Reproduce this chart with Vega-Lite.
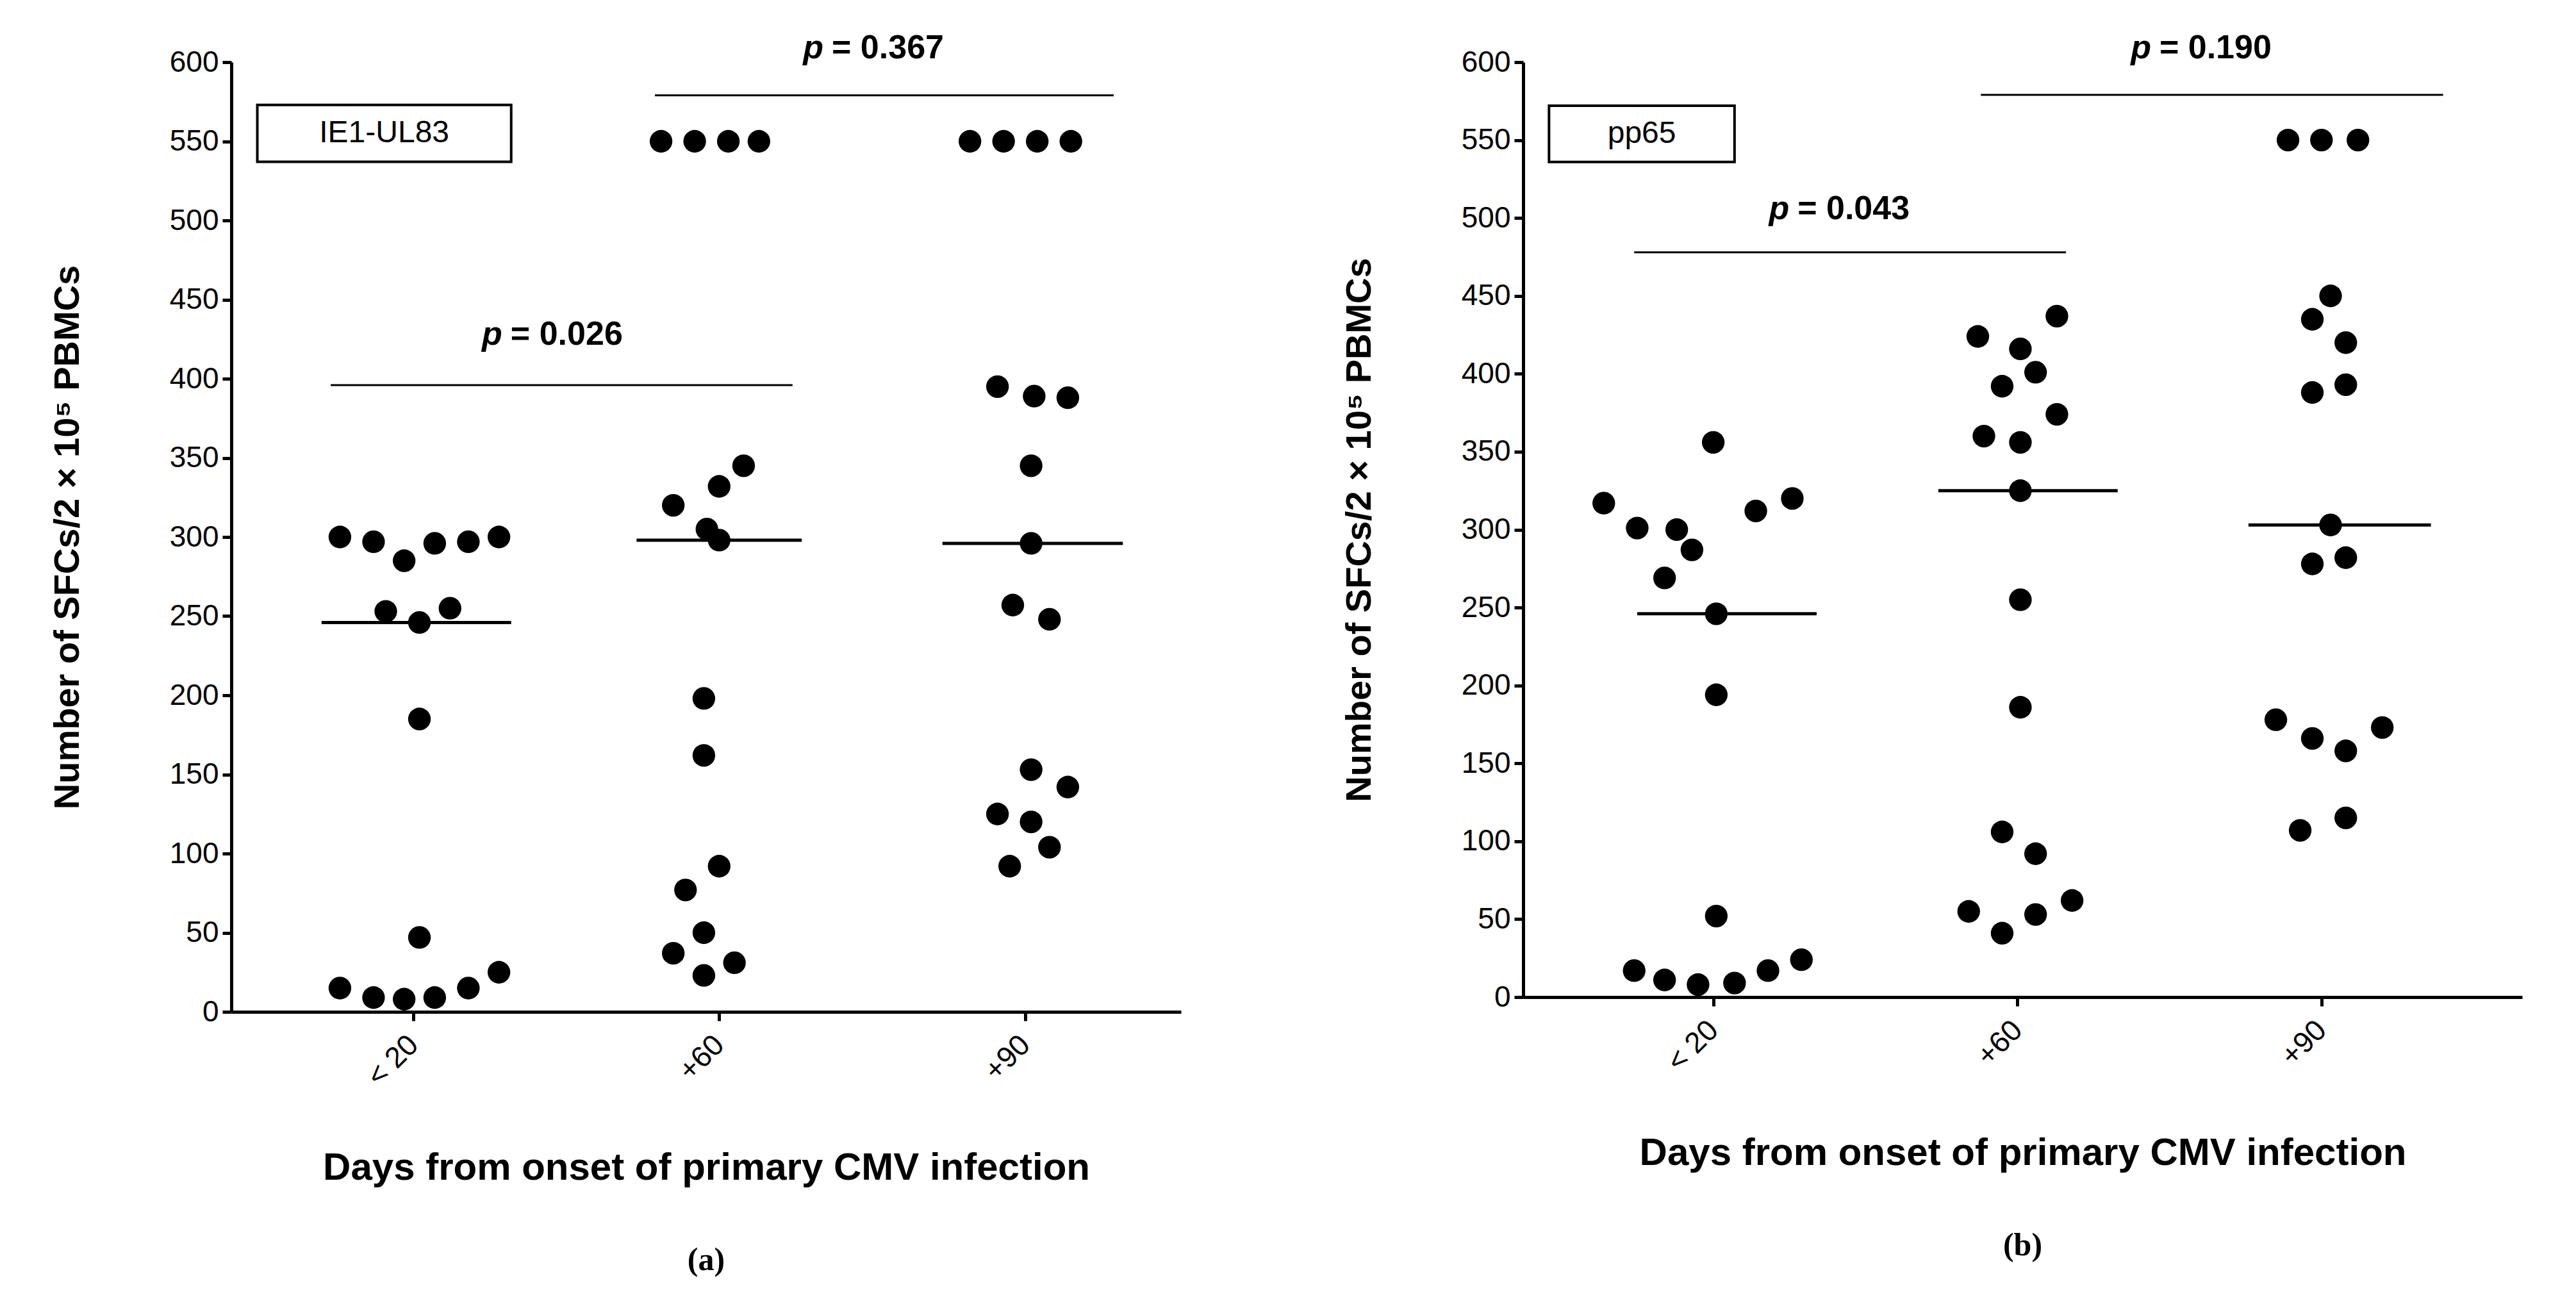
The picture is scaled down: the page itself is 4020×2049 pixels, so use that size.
{
"$schema":"https://vega.github.io/schema/vega-lite/v6.json",
"background":"white",
"padding":{"left":77,"top":48,"right":10,"bottom":10},
"spacing":250,
"config":{"view":{"stroke":null},"font":"Liberation Sans",
"axis":{"grid":false,"domainColor":"black","domainWidth":5,"tickColor":"black","tickWidth":5,"tickSize":14,"labelFont":"Liberation Sans","labelFontSize":46,"labelColor":"black","titleColor":"black","labelPadding":6},
"title":{"font":"Liberation Serif","fontSize":50,"fontWeight":"bold","orient":"bottom","offset":90,"color":"black"}},
"datasets":{
"pa":[{"x":0.76,"y":300},{"x":0.87,"y":297},{"x":0.97,"y":285},{"x":1.07,"y":296},{"x":1.18,"y":297},{"x":1.28,"y":300},{"x":0.91,"y":253},{"x":1.02,"y":246},{"x":1.12,"y":255},{"x":1.02,"y":185},{"x":0.76,"y":15},{"x":0.87,"y":9},{"x":0.97,"y":8},{"x":1.07,"y":9},{"x":1.18,"y":15},{"x":1.28,"y":25},{"x":1.02,"y":47},
{"x":1.81,"y":550},{"x":1.92,"y":550},{"x":2.03,"y":550},{"x":2.13,"y":550},{"x":1.85,"y":320},{"x":1.96,"y":305},{"x":2.0,"y":298},{"x":2.0,"y":332},{"x":2.08,"y":345},{"x":1.95,"y":198},{"x":1.95,"y":162},{"x":2.0,"y":92},{"x":1.89,"y":77},{"x":1.95,"y":50},{"x":1.85,"y":37},{"x":2.05,"y":31},{"x":1.95,"y":23},
{"x":2.82,"y":550},{"x":2.93,"y":550},{"x":3.04,"y":550},{"x":3.15,"y":550},{"x":2.91,"y":395},{"x":3.03,"y":389},{"x":3.14,"y":388},{"x":3.02,"y":345},{"x":3.02,"y":296},{"x":2.96,"y":257},{"x":3.08,"y":248},{"x":3.02,"y":153},{"x":3.14,"y":142},{"x":2.91,"y":125},{"x":3.02,"y":120},{"x":3.08,"y":104},{"x":2.95,"y":92}],
"ma":[{"x":0.7,"x2":1.32,"y":246},{"x":1.73,"x2":2.27,"y":298},{"x":2.73,"x2":3.32,"y":296}],
"sa":[{"x":0.73,"x2":2.24,"y":396,"xm":1.49,"ty":428,"t":"= 0.026"},{"x":1.79,"x2":3.29,"y":579,"xm":2.54,"ty":609,"t":"= 0.367"}],
"pb":[{"x":1.0,"y":356},{"x":0.64,"y":317},{"x":0.75,"y":301},{"x":0.88,"y":300},{"x":0.93,"y":287},{"x":0.84,"y":269},{"x":1.14,"y":312},{"x":1.26,"y":320},{"x":1.01,"y":246},{"x":1.01,"y":194},{"x":1.01,"y":52},{"x":0.74,"y":17},{"x":0.84,"y":11},{"x":0.95,"y":8},{"x":1.07,"y":9},{"x":1.18,"y":17},{"x":1.29,"y":24},
{"x":2.13,"y":437},{"x":1.87,"y":424},{"x":2.01,"y":416},{"x":2.06,"y":401},{"x":1.95,"y":392},{"x":2.13,"y":374},{"x":1.89,"y":360},{"x":2.01,"y":356},{"x":2.01,"y":325},{"x":2.01,"y":255},{"x":2.01,"y":186},{"x":1.95,"y":106},{"x":2.06,"y":92},{"x":2.18,"y":62},{"x":1.84,"y":55},{"x":2.06,"y":53},{"x":1.95,"y":41},
{"x":2.89,"y":550},{"x":3.0,"y":550},{"x":3.12,"y":550},{"x":3.03,"y":450},{"x":2.97,"y":435},{"x":3.08,"y":420},{"x":3.08,"y":393},{"x":2.97,"y":388},{"x":3.03,"y":303},{"x":3.08,"y":282},{"x":2.97,"y":278},{"x":2.85,"y":178},{"x":2.97,"y":166},{"x":3.08,"y":158},{"x":3.2,"y":173},{"x":3.08,"y":115},{"x":2.93,"y":107}],
"mb":[{"x":0.75,"x2":1.34,"y":246},{"x":1.74,"x2":2.33,"y":325},{"x":2.76,"x2":3.36,"y":303}],
"sb":[{"x":0.74,"x2":2.16,"y":478,"xm":1.45,"ty":506,"t":"= 0.043"},{"x":1.88,"x2":3.4,"y":579,"xm":2.64,"ty":609,"t":"= 0.190"}]
},
"hconcat":[
{"width":1482,"height":1482,"title":"(a)",
"layer":[
{"data":{"name":"pa"},"mark":{"type":"point","filled":true,"size":1250,"color":"black","opacity":1},
"encoding":{"x":{"field":"x","type":"quantitative","scale":{"domain":[0.405,3.51],"nice":false,"zero":false},
"axis":{"values":[1,2,3],"labelExpr":"datum.value==1?'< 20':datum.value==2?'+60':'+90'","labelAngle":-45,"labelAlign":"right","labelBaseline":"middle","labelPadding":30,"title":"Days from onset of primary CMV infection","titleFontSize":60,"titleFontWeight":"bold","titlePadding":90}},
"y":{"field":"y","type":"quantitative","scale":{"domain":[0,600],"nice":false},"axis":{"values":[0,50,100,150,200,250,300,350,400,450,500,550,600],"title":"Number of SFCs/2 × 10⁵ PBMCs","titleFontSize":56,"titleFontWeight":"bold","titlePadding":130}}}},
{"data":{"name":"ma"},"mark":{"type":"rule","color":"black","strokeWidth":5},"encoding":{"x":{"field":"x","type":"quantitative"},"x2":{"field":"x2"},"y":{"field":"y","type":"quantitative"}}},
{"data":{"name":"sa"},"mark":{"type":"rule","color":"black","strokeWidth":3},"encoding":{"x":{"field":"x","type":"quantitative"},"x2":{"field":"x2"},"y":{"field":"y","type":"quantitative"}}},
{"data":{"name":"sa"},"mark":{"type":"text","fontSize":52,"fontWeight":"bold","fontStyle":"italic","align":"right","dx":-95,"clip":false},"encoding":{"x":{"field":"xm","type":"quantitative"},"y":{"field":"ty","type":"quantitative"},"text":{"value":"p"}}},
{"data":{"name":"sa"},"mark":{"type":"text","fontSize":52,"fontWeight":"bold","align":"left","dx":-82,"clip":false},"encoding":{"x":{"field":"xm","type":"quantitative"},"y":{"field":"ty","type":"quantitative"},"text":{"field":"t"}}},
{"data":{"values":[{"a":1}]},"mark":{"type":"rect","fill":"white","stroke":"black","strokeWidth":4},"encoding":{"x":{"datum":0.49},"x2":{"datum":1.32},"y":{"datum":573},"y2":{"datum":537}}},
{"data":{"values":[{"a":1}]},"mark":{"type":"text","fontSize":48,"align":"center","baseline":"middle"},"encoding":{"x":{"datum":0.905},"y":{"datum":555},"text":{"value":"IE1-UL83"}}}
]},
{"width":1559,"height":1459,"title":"(b)",
"layer":[
{"data":{"name":"pb"},"mark":{"type":"point","filled":true,"size":1250,"color":"black","opacity":1},
"encoding":{"x":{"field":"x","type":"quantitative","scale":{"domain":[0.375,3.66],"nice":false,"zero":false},
"axis":{"values":[1,2,3],"labelExpr":"datum.value==1?'< 20':datum.value==2?'+60':'+90'","labelAngle":-45,"labelAlign":"right","labelBaseline":"middle","labelPadding":30,"title":"Days from onset of primary CMV infection","titleFontSize":60,"titleFontWeight":"bold","titlePadding":90}},
"y":{"field":"y","type":"quantitative","scale":{"domain":[0,600],"nice":false},"axis":{"values":[0,50,100,150,200,250,300,350,400,450,500,550,600],"title":"Number of SFCs/2 × 10⁵ PBMCs","titleFontSize":56,"titleFontWeight":"bold","titlePadding":130}}}},
{"data":{"name":"mb"},"mark":{"type":"rule","color":"black","strokeWidth":5},"encoding":{"x":{"field":"x","type":"quantitative"},"x2":{"field":"x2"},"y":{"field":"y","type":"quantitative"}}},
{"data":{"name":"sb"},"mark":{"type":"rule","color":"black","strokeWidth":3},"encoding":{"x":{"field":"x","type":"quantitative"},"x2":{"field":"x2"},"y":{"field":"y","type":"quantitative"}}},
{"data":{"name":"sb"},"mark":{"type":"text","fontSize":52,"fontWeight":"bold","fontStyle":"italic","align":"right","dx":-95,"clip":false},"encoding":{"x":{"field":"xm","type":"quantitative"},"y":{"field":"ty","type":"quantitative"},"text":{"value":"p"}}},
{"data":{"name":"sb"},"mark":{"type":"text","fontSize":52,"fontWeight":"bold","align":"left","dx":-82,"clip":false},"encoding":{"x":{"field":"xm","type":"quantitative"},"y":{"field":"ty","type":"quantitative"},"text":{"field":"t"}}},
{"data":{"values":[{"a":1}]},"mark":{"type":"rect","fill":"white","stroke":"black","strokeWidth":4},"encoding":{"x":{"datum":0.46},"x2":{"datum":1.07},"y":{"datum":572},"y2":{"datum":536}}},
{"data":{"values":[{"a":1}]},"mark":{"type":"text","fontSize":48,"align":"center","baseline":"middle"},"encoding":{"x":{"datum":0.765},"y":{"datum":554},"text":{"value":"pp65"}}}
]}
]}
